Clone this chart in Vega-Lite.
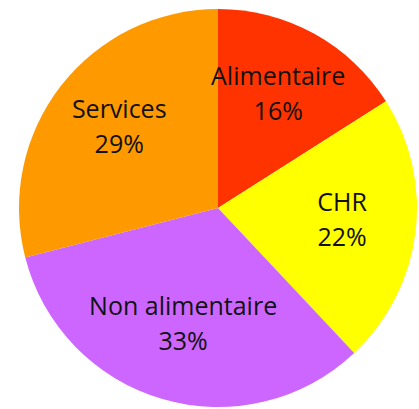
{
  "$schema": "https://vega.github.io/schema/vega-lite/v6.json",
  "width": 419,
  "height": 409,
  "autosize": {"type": "fit", "contains": "padding"},
  "padding": {"left": 17, "top": 7, "right": 0, "bottom": 0},
  "background": "white",
  "view": {"stroke": null},
  "data": {
    "values": [
      {"categorie": "Alimentaire", "part": 16, "label": "Alimentaire\n16%"},
      {"categorie": "CHR", "part": 22, "label": "CHR\n22%"},
      {"categorie": "Non alimentaire", "part": 33, "label": "Non alimentaire\n33%"},
      {"categorie": "Services", "part": 29, "label": "Services\n29%"}
    ]
  },
  "encoding": {
    "theta": {"field": "part", "type": "quantitative", "stack": true},
    "order": {"field": "categorie", "type": "nominal", "sort": "ascending"}
  },
  "layer": [
    {
      "mark": {"type": "arc", "outerRadius": 199},
      "encoding": {
        "color": {
          "field": "categorie",
          "type": "nominal",
          "scale": {
            "domain": ["Alimentaire", "CHR", "Non alimentaire", "Services"],
            "range": ["#FF3300", "#FFFF00", "#CC66FF", "#FF9900"]
          },
          "legend": null
        }
      }
    },
    {
      "mark": {
        "type": "text",
        "radius": 125,
        "dy": -21,
        "font": "Open Sans",
        "fontSize": 25,
        "lineHeight": 35,
        "lineBreak": "\n",
        "color": "#111111",
        "align": "center",
        "baseline": "middle"
      },
      "encoding": {
        "text": {"field": "label", "type": "nominal"}
      }
    }
  ]
}
